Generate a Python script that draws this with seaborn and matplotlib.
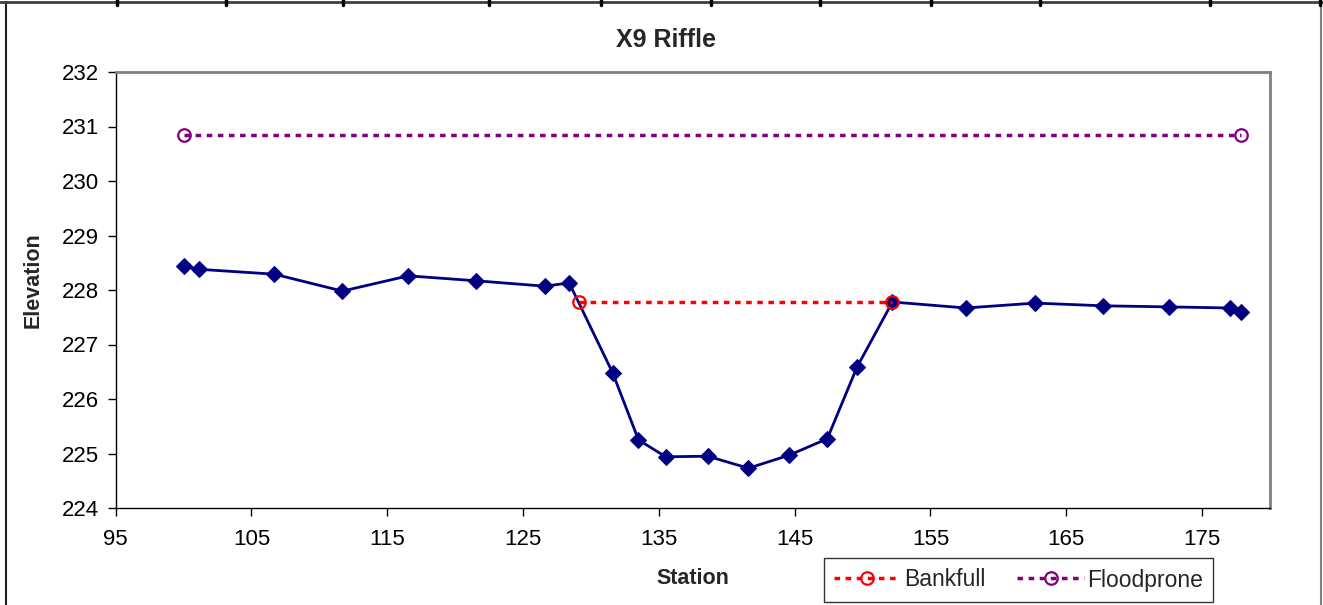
import matplotlib
matplotlib.use("Agg")
import matplotlib.pyplot as plt
import seaborn as sns
import pandas as pd
from matplotlib.lines import Line2D

# ---- data ----
station = [100.0, 101.15, 106.7, 111.7, 116.55, 121.5, 126.6, 128.4, 131.6, 133.5,
           135.5, 138.6, 141.6, 144.6, 147.4, 149.6, 152.2, 157.6, 162.7, 167.7,
           172.6, 177.05, 177.85]
elevation = [228.44, 228.38, 228.29, 227.98, 228.26, 228.17, 228.07, 228.13, 226.48, 225.25,
             224.94, 224.95, 224.73, 224.97, 225.27, 226.59, 227.78, 227.67, 227.76, 227.71,
             227.69, 227.67, 227.60]
bankfull_x = [129.1, 152.2]
bankfull_y = [227.78, 227.78]
flood_x = [100.0, 177.85]
flood_y = [230.84, 230.84]
x_ticks = [95, 105, 115, 125, 135, 145, 155, 165, 175]
y_ticks = [224, 225, 226, 227, 228, 229, 230, 231, 232]
title = "X9 Riffle"

sns.set_theme(style="white")
plt.rcParams['font.family'] = ['Liberation Sans', 'DejaVu Sans']

W, H = 1323, 605
fig = plt.figure(figsize=(W / 100, H / 100), dpi=100)
ax = fig.add_axes([115.6 / W, 1 - 508 / H, (1270 - 115.6) / W, (508 - 72) / H])

main = pd.DataFrame({"Station": station, "Elevation": elevation})
bank = pd.DataFrame({"Station": bankfull_x, "Elevation": bankfull_y})
flood = pd.DataFrame({"Station": flood_x, "Elevation": flood_y})

dot = (0, (1.6, 1.6))
sns.lineplot(data=main, x="Station", y="Elevation", ax=ax, color="#000080",
             linewidth=2, marker="D", markersize=8.5, markeredgecolor="#000080",
             sort=False, estimator=None, zorder=3)
sns.lineplot(data=bank, x="Station", y="Elevation", ax=ax, color="#FF0000",
             linewidth=2.5, linestyle=dot, marker="o", markersize=9,
             markerfacecolor="none", markeredgecolor="#FF0000", markeredgewidth=1.6,
             sort=False, estimator=None, zorder=4)
sns.lineplot(data=flood, x="Station", y="Elevation", ax=ax, color="#800080",
             linewidth=2.5, linestyle=dot, marker="o", markersize=9,
             markerfacecolor="none", markeredgecolor="#800080", markeredgewidth=1.6,
             sort=False, estimator=None, zorder=4)

ax.set_xlim(95, 180)
ax.set_ylim(224, 232)
ax.set_xticks(x_ticks)
ax.set_yticks(y_ticks)
ax.tick_params(axis="both", labelsize=16, colors="black", direction="out",
               length=6, width=1, pad=9, bottom=True, left=True)
ax.tick_params(axis="y", pad=6)
for s in ["top", "right"]:
    ax.spines[s].set_color("#808080")
    ax.spines[s].set_linewidth(2)
for s in ["left", "bottom"]:
    ax.spines[s].set_color("black")
    ax.spines[s].set_linewidth(1)
ax.set_xlabel("")
ax.set_ylabel("")
ax.grid(False)

fig.text(665.5 / W, 1 - 40 / H, title, ha="center", va="center",
         fontsize=18, fontweight="bold")
fig.text(693 / W, 1 - 579 / H, "Station", ha="center", va="center",
         fontsize=15.5, fontweight="bold")
fig.text(33 / W, 1 - 280 / H, "Elevation", ha="center", va="center",
         fontsize=15.5, fontweight="bold", rotation=90)

handles = [
    Line2D([], [], color="#FF0000", linewidth=2.5, linestyle=dot,
           marker="o", markersize=9, markerfacecolor="none",
           markeredgecolor="#FF0000", markeredgewidth=1.6),
    Line2D([], [], color="#800080", linewidth=2.5, linestyle=dot,
           marker="o", markersize=9, markerfacecolor="none",
           markeredgecolor="#800080", markeredgewidth=1.6),
]
leg = fig.legend(handles, ["Bankfull", "Floodprone"], ncol=2,
                 loc="center", bbox_to_anchor=(1018.5 / W, 1 - 580 / H),
                 frameon=True, fancybox=False, fontsize=16.5,
                 handlelength=2.9, handletextpad=0.15, columnspacing=1.4,
                 borderpad=0.45, edgecolor="black")
leg.get_frame().set_linewidth(1)

# outer chart frame and spreadsheet column marks
fig.add_artist(Line2D([6 / W, 6 / W], [0, 1 - 1.5 / H], transform=fig.transFigure,
                      color="#202020", linewidth=1.5))
fig.add_artist(Line2D([1320.5 / W, 1320.5 / W], [0, 1 - 1.5 / H], transform=fig.transFigure,
                      color="#808080", linewidth=1.5))
fig.add_artist(Line2D([0, 1], [1 - 1.5 / H, 1 - 1.5 / H], transform=fig.transFigure,
                      color="#404040", linewidth=2))
for xc in [117, 226, 343, 489, 601, 711, 820, 931, 1040, 1210, 1320]:
    fig.add_artist(Line2D([xc / W, xc / W], [1 - 5 / H, 1], transform=fig.transFigure,
                          color="black", linewidth=2.5))

fig.savefig("out.png", dpi=100, facecolor="white")
